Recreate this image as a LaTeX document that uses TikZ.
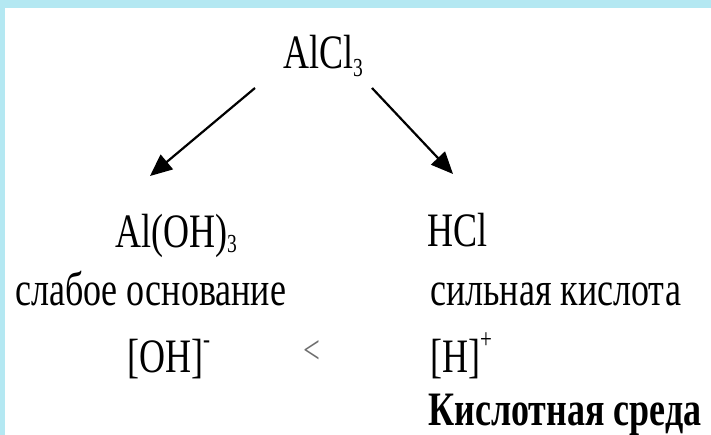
\documentclass[tikz,border=0pt]{standalone}
\usepackage{fontspec}
\setmainfont{Liberation Serif}
\usetikzlibrary{arrows.meta}
\definecolor{framecyan}{RGB}{180,232,242}
\definecolor{ltgray}{RGB}{110,110,110}
\newcommand\sq[1]{\scalebox{0.75}[1]{#1}}
\newcommand\csub[2]{\raisebox{-#1pt}{\fontsize{26}{26}\selectfont #2}}
\newcommand\csup[1]{\raisebox{24pt}{\fontsize{28}{28}\selectfont #1}}
\begin{document}
\begin{tikzpicture}[x=1pt,y=-1pt,
  txt/.style={inner sep=0pt, anchor=base west, font=\fontsize{48}{48}\selectfont},
  arrowline/.style={line width=2.2pt, -{Triangle[length=22pt,width=19pt]}}]
\useasboundingbox (0,0) rectangle (711,435);
\fill[framecyan] (0,0) rectangle (711,435);
\fill[white] (5,8) rectangle (711,435);
\node[txt] (alcl) at (283,69) {\sq{AlCl\csub{8}{3}}};
\node[txt] (aloh) at (115,248) {\sq{Al(OH)\csub{5}{3}}};
\node[txt] (hcl) at (427,247) {\sq{HCl}};
\node[txt] (weak) at (15,305) {\sq{слабое основание}};
\node[txt] (strong) at (430,305) {\sq{сильная кислота}};
\node[txt] (oh) at (127,372) {\sq{[OH]\csup{-}}};
\node[txt] (h) at (430,372) {\sq{[H]\csup{+}}};
\node[inner sep=0pt, anchor=center, text=ltgray, font=\fontsize{40}{40}\selectfont] (lt) at (312,352) {\sq{<}};
\node[txt, font=\fontsize{48}{48}\selectfont\bfseries] (env) at (428,425) {\sq{Кислотная среда}};
\coordinate (l1) at (255,88);
\coordinate (l2) at (150,176);
\coordinate (r1) at (372,88);
\coordinate (r2) at (453,174);
\draw[arrowline] (l1) -- (l2);
\draw[arrowline] (r1) -- (r2);
\end{tikzpicture}
\end{document}
